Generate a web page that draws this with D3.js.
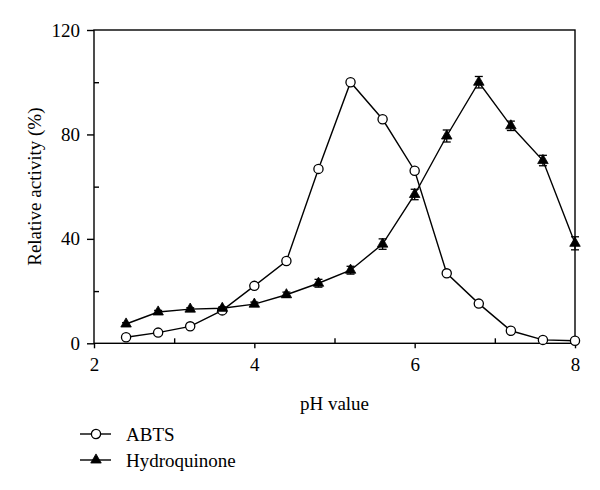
<!DOCTYPE html>
<html>
<head>
<meta charset="utf-8">
<script src="https://cdn.jsdelivr.net/npm/d3@7"></script>
<style>
  html, body { margin: 0; padding: 0; background: #fff; }
  svg { display: block; }
  text { font-family: "Liberation Serif", "DejaVu Serif", serif; fill: #000; }
</style>
</head>
<body>
<svg id="chart" width="600" height="490"></svg>
<script>
// ---- Data ----
const pH = [2.4, 2.8, 3.2, 3.6, 4.0, 4.4, 4.8, 5.2, 5.6, 6.0, 6.4, 6.8, 7.2, 7.6, 8.0];
const abts = [2.3, 4.1, 6.5, 12.6, 22, 31.5, 66.8, 100, 85.8, 66.1, 26.8, 15.2, 4.8, 1.3, 1.0];
const hydroquinone = [7.4, 12, 13.1, 13.4, 15, 18.6, 23, 28, 38, 57, 79.4, 100, 83.3, 70, 38.3];
const hydroErr = [0.5, 0.6, 0.5, 0.5, 0.8, 1.0, 1.5, 1.5, 2.0, 2.0, 2.3, 2.2, 1.8, 2.0, 2.5];
const xMajorTicks = [2, 4, 6, 8];
const xMinorTicks = [3, 5, 7];
const yMajorTicks = [0, 40, 80, 120];
const yMinorTicks = [20, 60, 100];
const seriesNames = ["ABTS", "Hydroquinone"];

// ---- Layout ----
const svg = d3.select("#chart");
const pL = 94, pT = 30, pR = 575, pB = 343.3;
const x = d3.scaleLinear().domain([2, 8]).range([pL, pR]);
const y = d3.scaleLinear().domain([0, 120]).range([pB, pT]);

const g = svg.append("g");

// Frame
g.append("rect")
  .attr("x", pL).attr("y", pT)
  .attr("width", pR - pL).attr("height", pB - pT)
  .attr("fill", "none").attr("stroke", "#000").attr("stroke-width", 1.4);

// Axes with ticks
const fs = 19;
const yAxisMajor = d3.axisLeft(y).tickValues(yMajorTicks).tickSize(7).tickPadding(7).tickFormat(d3.format("d"));
const yAxisMinor = d3.axisRight(y).tickValues(yMinorTicks).tickSize(5).tickFormat("");
const xAxisMajor = d3.axisBottom(x).tickValues(xMajorTicks).tickSize(5).tickPadding(9).tickFormat(d3.format("d"));
const xAxisMinor = d3.axisTop(x).tickValues(xMinorTicks).tickSize(5).tickFormat("");

function styleAxis(sel) {
  sel.select(".domain").remove();
  sel.selectAll("line").attr("stroke", "#000").attr("stroke-width", 1.4);
  sel.selectAll("text").attr("font-family", "'Liberation Serif', 'DejaVu Serif', serif").attr("font-size", fs).attr("fill", "#000");
}
g.append("g").attr("transform", `translate(${pL},0)`).call(yAxisMajor).call(styleAxis);
g.append("g").attr("transform", `translate(${pL},0)`).call(yAxisMinor).call(styleAxis);
g.append("g").attr("transform", `translate(0,${pB})`).call(xAxisMajor).call(styleAxis);
g.append("g").attr("transform", `translate(0,${pB})`).call(xAxisMinor).call(styleAxis);

// Axis titles
g.append("text")
  .attr("transform", `translate(41,${(pT + pB) / 2}) rotate(-90)`)
  .attr("text-anchor", "middle")
  .attr("font-size", fs)
  .text("Relative activity (%)");
g.append("text")
  .attr("x", x(5)).attr("y", 410)
  .attr("text-anchor", "middle")
  .attr("font-size", fs)
  .text("pH value");

// Lines
const lineGen = d3.line().x((d, i) => x(pH[i])).y(d => y(d));
g.append("path").datum(abts).attr("d", lineGen)
  .attr("fill", "none").attr("stroke", "#000").attr("stroke-width", 1.4);
g.append("path").datum(hydroquinone).attr("d", lineGen)
  .attr("fill", "none").attr("stroke", "#000").attr("stroke-width", 1.4);

// ABTS markers
g.selectAll("circle.abts").data(abts).enter().append("circle")
  .attr("class", "abts")
  .attr("cx", (d, i) => x(pH[i])).attr("cy", d => y(d)).attr("r", 4.6)
  .attr("fill", "#fff").attr("stroke", "#000").attr("stroke-width", 1.3);

// Hydroquinone error bars
const capW = 4;
const eb = g.selectAll("g.err").data(hydroquinone).enter().append("g").attr("class", "err");
eb.append("line")
  .attr("x1", (d, i) => x(pH[i])).attr("x2", (d, i) => x(pH[i]))
  .attr("y1", (d, i) => y(d - hydroErr[i])).attr("y2", (d, i) => y(d + hydroErr[i]))
  .attr("stroke", "#000").attr("stroke-width", 1.3);
eb.append("line")
  .attr("x1", (d, i) => x(pH[i]) - capW).attr("x2", (d, i) => x(pH[i]) + capW)
  .attr("y1", (d, i) => y(d + hydroErr[i])).attr("y2", (d, i) => y(d + hydroErr[i]))
  .attr("stroke", "#000").attr("stroke-width", 1.3);
eb.append("line")
  .attr("x1", (d, i) => x(pH[i]) - capW).attr("x2", (d, i) => x(pH[i]) + capW)
  .attr("y1", (d, i) => y(d - hydroErr[i])).attr("y2", (d, i) => y(d - hydroErr[i]))
  .attr("stroke", "#000").attr("stroke-width", 1.3);

// Hydroquinone markers
const tri = d3.symbol().type(d3.symbolTriangle).size(48);
g.selectAll("path.hq").data(hydroquinone).enter().append("path")
  .attr("class", "hq")
  .attr("d", tri)
  .attr("transform", (d, i) => `translate(${x(pH[i])},${y(d)})`)
  .attr("fill", "#000").attr("stroke", "#000").attr("stroke-width", 0.8);

// Legend
const legY = [434, 460];
const legend = g.selectAll("g.leg").data(seriesNames).enter().append("g").attr("class", "leg")
  .attr("transform", (d, i) => `translate(0,${legY[i]})`);
legend.append("line").attr("x1", 80).attr("x2", 111).attr("y1", 0).attr("y2", 0)
  .attr("stroke", "#000").attr("stroke-width", 1.4);
legend.filter((d, i) => i === 0).append("circle")
  .attr("cx", 96).attr("cy", 0).attr("r", 4.6)
  .attr("fill", "#fff").attr("stroke", "#000").attr("stroke-width", 1.3);
legend.filter((d, i) => i === 1).append("path")
  .attr("d", tri).attr("transform", "translate(96,0)")
  .attr("fill", "#000").attr("stroke", "#000").attr("stroke-width", 0.8);
legend.append("text").attr("x", 126).attr("y", 6.5)
  .attr("font-size", fs)
  .text(d => d);
</script>
</body>
</html>
